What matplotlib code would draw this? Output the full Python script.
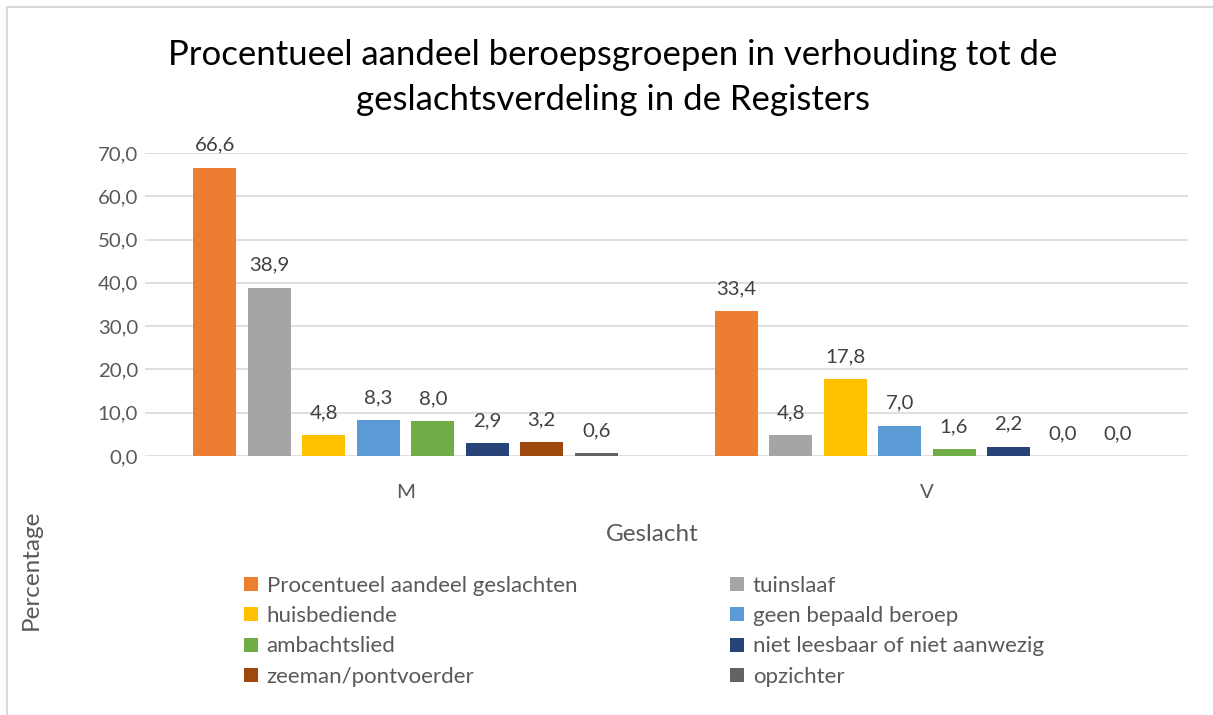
import matplotlib.pyplot as plt
import matplotlib.patches as mpatches
import numpy as np

plt.rcParams['font.family'] = ['Lato', 'DejaVu Sans']

categories = ["M", "V"]
series = ["Procentueel aandeel geslachten", "tuinslaaf", "huisbediende",
          "geen bepaald beroep", "ambachtslied", "niet leesbaar of niet aanwezig",
          "zeeman/pontvoerder", "opzichter"]
values_m = [66.6, 38.9, 4.8, 8.3, 8.0, 2.9, 3.2, 0.6]
values_v = [33.4, 4.8, 17.8, 7.0, 1.6, 2.2, 0.0, 0.0]
colors = ["#ED7D31", "#A5A5A5", "#FFC000", "#5B9BD5", "#70AD47",
          "#264478", "#9E480E", "#636363"]

fig = plt.figure(figsize=(12.13, 7.15), dpi=100)
ax = fig.add_axes([0.1195, 0.3622, 0.8595, 0.4238])

x = np.arange(len(categories))
step = 0.1045
width = 0.0825
handles = []
for i, name in enumerate(series):
    vals = [values_m[i], values_v[i]]
    pos = x + (i - 3.5) * step
    b = ax.bar(pos, vals, width, color=colors[i], label=name, zorder=3)
    handles.append(b)
    for p, v in zip(pos, vals):
        ax.annotate(f"{v:.1f}".replace(".", ","), (p, v), xytext=(0, 10),
                    textcoords="offset points", ha="center", va="bottom",
                    fontsize=14.7, color="#404040")

ax.set_xlim(-0.5, 1.5)
ax.set_ylim(0, 70)
ax.set_yticks(range(0, 71, 10))
ax.set_yticklabels([f"{t},0" for t in range(0, 71, 10)])
ax.set_xticks(x)
ax.set_xticklabels(categories)
ax.tick_params(length=0, labelsize=14.7, labelcolor="#595959")
ax.tick_params(axis="x", pad=20)
ax.tick_params(axis="y", pad=5)
ax.grid(axis="y", color="#D9D9D9", linewidth=1.2, zorder=0)
for s in ax.spines.values():
    s.set_visible(False)

fig.text(0.505, 0.923, "Procentueel aandeel beroepsgroepen in verhouding tot de",
         ha="center", va="center", fontsize=25, color="#000000")
fig.text(0.505, 0.860, "geslachtsverdeling in de Registers",
         ha="center", va="center", fontsize=25, color="#000000")
fig.text(0.538, 0.253, "Geslacht", ha="center", va="center", fontsize=17.5, color="#595959")
fig.text(0.026, 0.203, "Percentage", ha="center", va="center", rotation=90,
         fontsize=17.5, color="#595959")

order = [0, 2, 4, 6, 1, 3, 5, 7]
fig.legend([handles[k] for k in order], [series[k] for k in order], ncol=2,
           loc="upper left", bbox_to_anchor=(0.185, 0.223), frameon=False,
           fontsize=16, labelcolor="#595959", handlelength=0.6, handleheight=0.6,
           handletextpad=0.4, columnspacing=6.9, labelspacing=0.47)

fig.patches.append(mpatches.Rectangle((7 / 1213, -0.01), 1.2, 1 - 7 / 715 + 0.01,
                                      transform=fig.transFigure, fill=False,
                                      edgecolor="#D9D9D9", linewidth=1.5))

fig.savefig("out.png", dpi=100)
